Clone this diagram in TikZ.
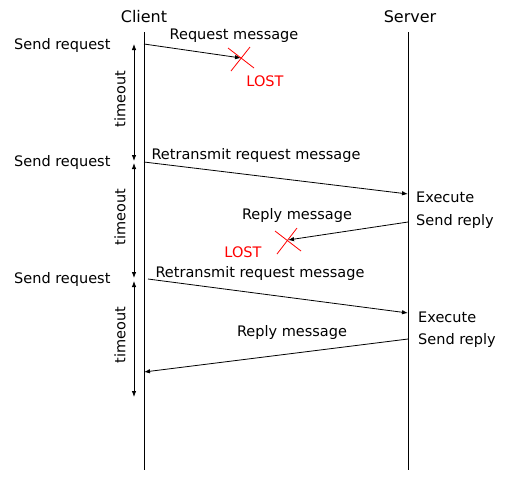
\documentclass[tikz,border=0pt]{standalone}
\usepackage{fontspec}
\setmainfont{DejaVu Sans}
\usetikzlibrary{arrows.meta}

\tikzset{
  msg/.style={line width=0.8pt,-{Latex[length=6pt,width=4.5pt]}},
  tmo/.style={line width=0.8pt,{Latex[length=6pt,width=4.5pt]}-{Latex[length=6pt,width=4.5pt]}},
  lostx/.style={red,line width=0.8pt},
  txt/.style={font=\fontsize{14.5}{16}\selectfont,inner sep=0pt},
  head/.style={font=\fontsize{16}{18}\selectfont,inner sep=0pt},
}

\begin{document}
\begin{tikzpicture}[x=1pt,y=-1pt]
    \useasboundingbox (0,0) rectangle (510,491);

    % lifelines
    \node[head] (client) at (144,17) {Client};
    \node[head] (server) at (410,17) {Server};
    \coordinate (c0) at (144,32);
    \coordinate (c1) at (144,470);
    \coordinate (s0) at (408,32);
    \coordinate (s1) at (408,470);
    \draw[line width=0.8pt] (c0) -- (c1);
    \draw[line width=0.8pt] (s0) -- (s1);

    % timeouts
    \coordinate (t0) at (134,44);
    \coordinate (t1) at (134,161);
    \coordinate (t2) at (134,163);
    \coordinate (t3) at (134,278);
    \coordinate (t4) at (134,281);
    \coordinate (t5) at (134,397);
    \draw[tmo] (t0) -- (t1);
    \draw[tmo] (t2) -- (t3);
    \draw[tmo] (t4) -- (t5);
    \node[txt,rotate=90] (to1) at (120,99) {timeout};
    \node[txt,rotate=90] (to2) at (120,217) {timeout};
    \node[txt,rotate=90] (to3) at (120,335) {timeout};

    \node[txt,anchor=west] (sr1) at (14,45) {Send request};
    \node[txt,anchor=west] (sr2) at (14,162) {Send request};
    \node[txt,anchor=west] (sr3) at (14,279) {Send request};

    % first request, lost
    \coordinate (m1a) at (144,44);
    \coordinate (x1) at (241,58);
    \draw[msg] (m1a) -- (x1);
    \draw[lostx] ([shift={(-13,-10)}]x1) -- ([shift={(13,10)}]x1);
    \draw[lostx] ([shift={(9,-11)}]x1) -- ([shift={(-10,13)}]x1);
    \node[txt] (rm1) at (234,36) {Request message};
    \node[txt,red] (lost1) at (265,81) {LOST};

    % retransmit, reply lost
    \coordinate (m2a) at (144,162);
    \coordinate (m2b) at (408,194);
    \draw[msg] (m2a) -- (m2b);
    \node[txt] (rt1) at (256,155) {Retransmit request message};
    \node[txt,anchor=west] (ex1) at (416,197) {Execute};
    \node[txt,anchor=west] (sp1) at (416,221) {Send reply};
    \coordinate (r1a) at (408,222);
    \coordinate (x2) at (288,240);
    \draw[msg] (r1a) -- (x2);
    \draw[lostx] ([shift={(-13,-9)}]x2) -- ([shift={(13,11)}]x2);
    \draw[lostx] ([shift={(9,-12)}]x2) -- ([shift={(-11,14)}]x2);
    \node[txt] (rp1) at (297,215) {Reply message};
    \node[txt,red] (lost2) at (243,252) {LOST};

    % retransmit, reply arrives
    \coordinate (m3a) at (148,279);
    \coordinate (m3b) at (408,313);
    \draw[msg] (m3a) -- (m3b);
    \node[txt] (rt2) at (260,273) {Retransmit request message};
    \node[txt,anchor=west] (ex2) at (418,317) {Execute};
    \node[txt,anchor=west] (sp2) at (418,340) {Send reply};
    \coordinate (r2a) at (408,339);
    \coordinate (r2b) at (144,372);
    \draw[msg] (r2a) -- (r2b);
    \node[txt] (rp2) at (292,332) {Reply message};
\end{tikzpicture}
\end{document}
